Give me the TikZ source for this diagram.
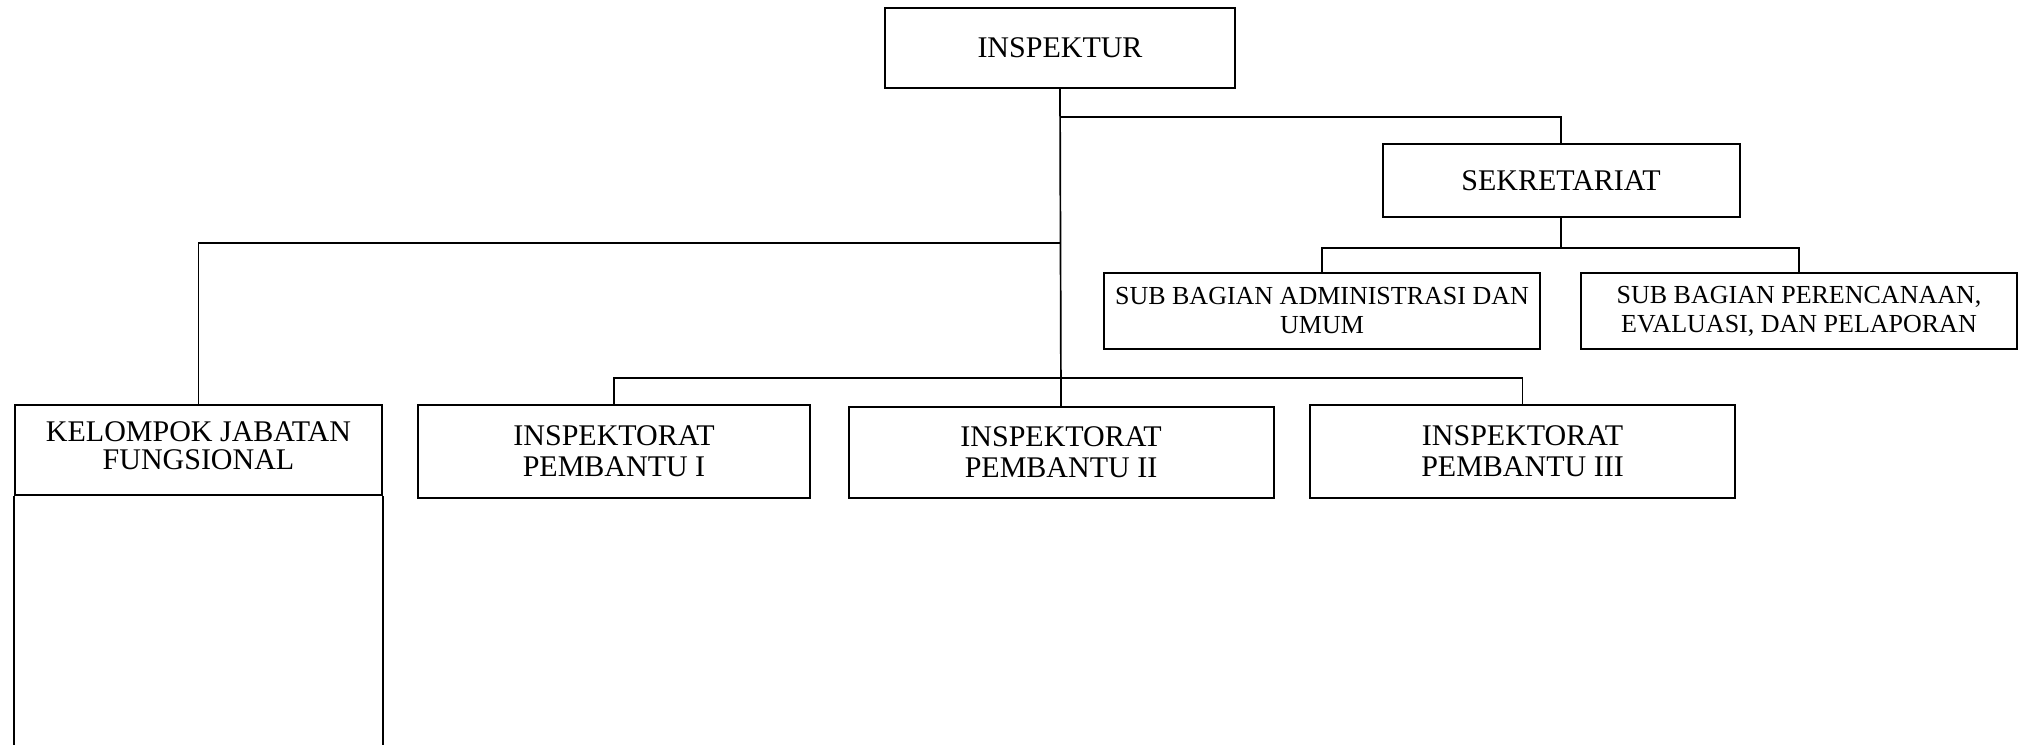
\documentclass[tikz,border=0pt]{standalone}
\usepackage{fontspec}
\setmainfont{Liberation Serif}
\begin{document}
\begin{tikzpicture}[x=1pt,y=-1pt,
  orgbox/.style={draw, line width=2pt, inner sep=0pt, align=center, anchor=center},
  conn/.style={line width=1.7pt},
  bigtext/.style={font=\fontsize{30}{31}\selectfont},
  smalltext/.style={font=\fontsize{26}{29}\selectfont}]
\useasboundingbox (0,0) rectangle (2018,745);
% boxes
\node[orgbox, bigtext, minimum width=350pt, minimum height=80pt] (insp) at (1060,48) {INSPEKTUR};
\node[orgbox, bigtext, minimum width=357pt, minimum height=73pt] (sek) at (1561,180.5) {SEKRETARIAT};
\node[orgbox, smalltext, minimum width=436pt, minimum height=76pt] (sub1) at (1322,311) {SUB BAGIAN ADMINISTRASI DAN\\UMUM};
\node[orgbox, smalltext, minimum width=436pt, minimum height=76pt] (sub2) at (1799,311) {SUB BAGIAN PERENCANAAN,\\EVALUASI, DAN PELAPORAN};
\node[orgbox, font=\fontsize{30}{27}\selectfont, minimum width=367pt, minimum height=90pt] (kjf) at (198.5,450) {\raisebox{6pt}{\begin{tabular}{@{}c@{}}KELOMPOK JABATAN\\FUNGSIONAL\end{tabular}}};
\node[orgbox, bigtext, minimum width=392pt, minimum height=93pt] (ip1) at (614,451.5) {INSPEKTORAT\\PEMBANTU I};
\node[orgbox, bigtext, minimum width=425pt, minimum height=91pt] (ip2) at (1061,452.5) {INSPEKTORAT\\PEMBANTU II};
\node[orgbox, bigtext, minimum width=425pt, minimum height=93pt] (ip3) at (1522.5,451.5) {INSPEKTORAT\\PEMBANTU III};
% body of the functional group box (runs off the bottom edge)
\coordinate (pagebottom) at (0,745);
\draw[line width=2pt] (kjf.south west) -- (kjf.south west |- pagebottom);
\draw[line width=2pt] (kjf.south east) -- (kjf.south east |- pagebottom);
% connectors
\draw[conn] (insp.south) -- (ip2.north);
\draw[conn] (insp.south) ++(0,28) -| (sek.north);
\draw[conn] (insp.south) ++(0,154) -| (kjf.north);
\draw[conn] (sek.south) -- ++(0,30) -| (sub1.north);
\draw[conn] (sek.south) ++(0,30) -| (sub2.north);
\draw[conn] (ip1.north) -- ++(0,-26) -| (ip3.north);
\end{tikzpicture}
\end{document}
